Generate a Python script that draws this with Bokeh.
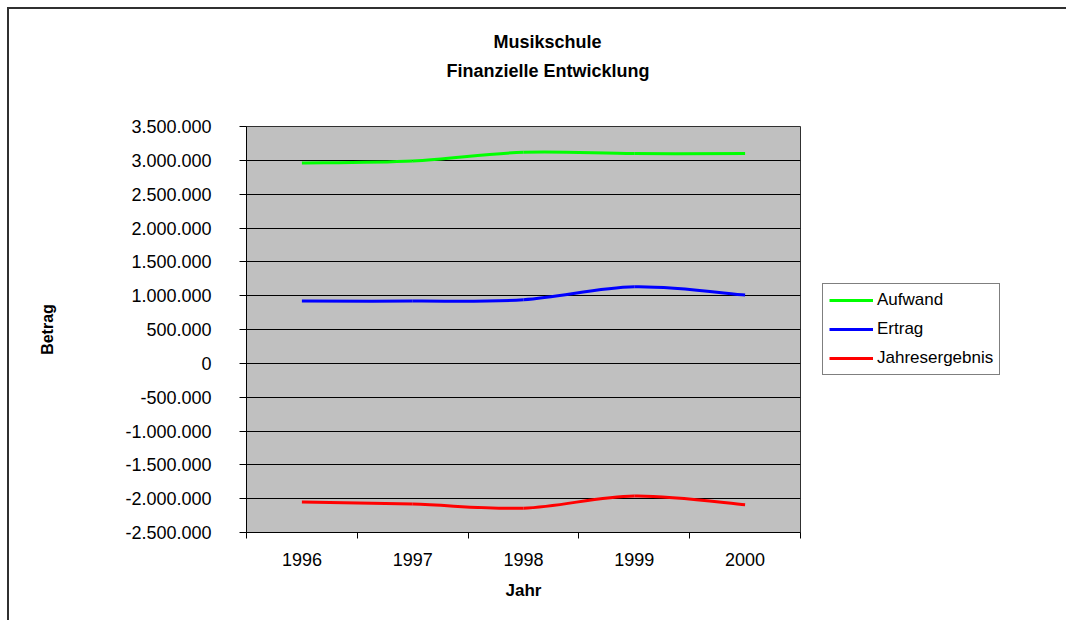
from bokeh.plotting import figure
from bokeh.models import FixedTicker, Legend, LegendItem, Title, Range1d, LinearAxis
from bokeh.embed import file_html
from bokeh.resources import INLINE

# Jahreswerte der Musikschule
years = [1996, 1997, 1998, 1999, 2000]
aufwand = [2960000, 2990000, 3120000, 3100000, 3100000]
ertrag = [920000, 920000, 940000, 1130000, 1010000]
jahresergebnis = [-2050000, -2080000, -2140000, -1960000, -2090000]

y_ticks = [-2500000, -2000000, -1500000, -1000000, -500000, 0,
           500000, 1000000, 1500000, 2000000, 2500000, 3000000, 3500000]
y_tick_labels = ["-2.500.000", "-2.000.000", "-1.500.000", "-1.000.000", "-500.000", "0",
                 "500.000", "1.000.000", "1.500.000", "2.000.000", "2.500.000", "3.000.000", "3.500.000"]
x_tick_labels = ["1996", "1997", "1998", "1999", "2000"]

FONT = "Liberation Sans"

# the chart area starts a few pixels inside the page, framed on the left and top
EDGE = 9
FRAME_L, FRAME_R, FRAME_T, FRAME_B = 246, 800, 126, 532
H = 620

p = figure(frame_width=FRAME_R - FRAME_L, frame_height=FRAME_B - FRAME_T,
           output_backend="svg", toolbar_location=None, title=None,
           x_range=Range1d(1995.5, 2000.5), y_range=Range1d(-2500000, 3500000),
           min_border_left=FRAME_L - EDGE, min_border_right=10,
           min_border_top=FRAME_T - EDGE, min_border_bottom=H - FRAME_B)
p.styles = {"margin-left": "7px", "margin-top": "7px",
            "border-left": "2px solid #303030", "border-top": "2px solid #303030"}
p.background_fill_color = "#c0c0c0"
p.border_fill_color = "white"
p.outline_line_color = "#303030"
p.outline_line_width = 1

# y axis
p.yaxis.ticker = FixedTicker(ticks=y_ticks)
p.yaxis.major_label_overrides = {v: s for v, s in zip(y_ticks, y_tick_labels)}
p.yaxis.major_label_text_font = FONT
p.yaxis.major_label_text_font_size = "18px"
p.yaxis.major_label_text_color = "black"
p.yaxis.major_tick_out = 7
p.yaxis.major_tick_in = 0
p.yaxis.minor_tick_line_color = None
p.yaxis.major_label_standoff = 28
p.yaxis.axis_line_color = "black"
p.yaxis.major_tick_line_color = "black"
p.yaxis.axis_label = "Betrag"
p.yaxis.axis_label_text_font = FONT
p.yaxis.axis_label_text_font_style = "bold"
p.yaxis.axis_label_text_font_size = "16px"
p.yaxis.axis_label_text_color = "black"
p.yaxis.axis_label_standoff = 66

# x axis: labels in the middle of each year, ticks on the boundaries
p.xaxis.ticker = FixedTicker(ticks=years, minor_ticks=[1995.5, 1996.5, 1997.5, 1998.5, 1999.5, 2000.5])
p.xaxis.major_label_overrides = {y: s for y, s in zip(years, x_tick_labels)}
p.xaxis.major_label_text_font = FONT
p.xaxis.major_label_text_font_size = "18px"
p.xaxis.major_label_text_color = "black"
p.xaxis.major_tick_out = 0
p.xaxis.major_tick_in = 0
p.xaxis.minor_tick_out = 6
p.xaxis.minor_tick_in = 0
p.xaxis.minor_tick_line_color = "black"
p.xaxis.major_label_standoff = 14
p.xaxis.axis_line_color = "black"
p.xaxis.axis_label = "Jahr"
p.xaxis.axis_label_text_font = FONT
p.xaxis.axis_label_text_font_style = "bold"
p.xaxis.axis_label_text_font_size = "17px"
p.xaxis.axis_label_text_color = "black"
p.xaxis.axis_label_standoff = 12

p.xgrid.grid_line_color = None
p.ygrid.ticker = FixedTicker(ticks=y_ticks)
p.ygrid.grid_line_color = "black"
p.ygrid.grid_line_width = 1


def smooth_segments(xs, ys):
    """Bezier segments through the points (Catmull-Rom style control points)."""
    n = len(xs)
    seg = {k: [] for k in ("x0", "y0", "x1", "y1", "cx0", "cy0", "cx1", "cy1")}
    for i in range(n - 1):
        a = max(i - 1, 0)
        d = min(i + 2, n - 1)
        seg["x0"].append(xs[i]); seg["y0"].append(ys[i])
        seg["x1"].append(xs[i + 1]); seg["y1"].append(ys[i + 1])
        seg["cx0"].append(xs[i] + (xs[i + 1] - xs[a]) / 6)
        seg["cy0"].append(ys[i] + (ys[i + 1] - ys[a]) / 6)
        seg["cx1"].append(xs[i + 1] - (xs[d] - xs[i]) / 6)
        seg["cy1"].append(ys[i + 1] - (ys[d] - ys[i]) / 6)
    return seg


series = [("Aufwand", aufwand, "#00ff00"),
          ("Ertrag", ertrag, "#0000ff"),
          ("Jahresergebnis", jahresergebnis, "#ff0000")]

items = []
for name, vals, color in series:
    s = smooth_segments(years, vals)
    r = p.bezier(x0=s["x0"], y0=s["y0"], x1=s["x1"], y1=s["y1"],
                 cx0=s["cx0"], cy0=s["cy0"], cx1=s["cx1"], cy1=s["cy1"],
                 line_color=color, line_width=3)
    items.append(LegendItem(label=name, renderers=[r]))

legend = Legend(items=items, location="center_left",
                label_text_font=FONT, label_text_font_size="17px", label_text_color="black",
                border_line_color="black", border_line_width=1,
                background_fill_color="white", background_fill_alpha=1,
                glyph_width=44, glyph_height=20, label_height=20,
                label_standoff=4, spacing=9, padding=6, margin=22)
p.add_layout(legend, "right")

# empty band between plot area and title: one hidden tick, no label
gap = LinearAxis(ticker=FixedTicker(ticks=[1998]), major_label_overrides={1998: ""},
                 axis_line_color=None, major_tick_line_color=None, minor_tick_line_color=None,
                 major_tick_out=42, major_tick_in=0, major_label_standoff=0)
p.add_layout(gap, "above")

# two-line title; the later one sits on top
p.add_layout(Title(text="Finanzielle Entwicklung", align="left", offset=200,
                   text_font=FONT, text_font_style="bold", text_font_size="18px",
                   text_color="black", standoff=8), "above")
p.add_layout(Title(text="Musikschule", align="left", offset=247,
                   text_font=FONT, text_font_style="bold", text_font_size="18px",
                   text_color="black", standoff=6), "above")

open("out.html", "w").write(file_html(p, INLINE))
